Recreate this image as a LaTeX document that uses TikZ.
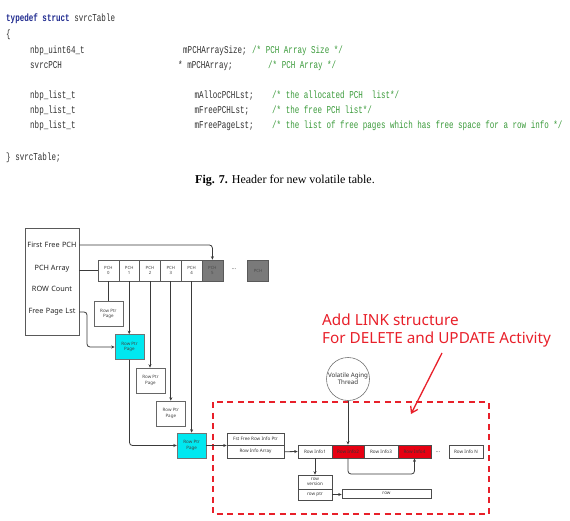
\documentclass[tikz,border=0pt]{standalone}
\usepackage{fontspec}
\setmainfont{Liberation Serif}
\newfontfamily\codefont[FakeStretch=0.72]{Liberation Mono}
\newfontfamily\dfont{Noto Sans}
\usetikzlibrary{arrows.meta}
\definecolor{kw}{HTML}{1F2A8F}
\definecolor{cmt}{HTML}{3A9A3A}
\definecolor{codegray}{HTML}{2F2F2F}
\definecolor{cyanbox}{HTML}{00E8F0}
\definecolor{redbox}{HTML}{E60012}
\definecolor{dred}{HTML}{E8202A}
\definecolor{pchgray}{HTML}{7A7A7A}
\definecolor{linegray}{HTML}{3A3A3A}
\tikzset{
  code/.style={anchor=base west, inner sep=0, text=codegray, font=\codefont\fontsize{10.5}{12}\selectfont},
  cmtx/.style={code, text=cmt},
  lbl/.style={inner sep=0, font=\dfont\fontsize{7.3}{9}\selectfont, text=black!85},
  cell/.style={draw=black!65, line width=0.5pt, inner sep=0, align=center, text=black!75,
     font=\dfont\fontsize{4.3}{5}\selectfont, minimum height=21pt, minimum width=20.8pt},
  pagebox/.style={draw=black!60, line width=0.6pt, inner sep=0, align=center, text=black!75,
     font=\dfont\fontsize{4.5}{5.2}\selectfont, minimum width=29pt, minimum height=25pt},
  infobox/.style={draw=black!70, line width=0.6pt, inner sep=0, align=center, text=black!80,
     font=\dfont\fontsize{4.6}{5.2}\selectfont},
  conn/.style={draw=linegray, line width=0.8pt, rounded corners=3pt, -{Stealth[length=3.5pt,width=3pt]}},
  plain/.style={draw=linegray, line width=0.8pt, rounded corners=3pt},
}
\begin{document}
\begin{tikzpicture}[x=1pt,y=-1pt]
\useasboundingbox (0,0) rectangle (570,521);
% ---------------- code ----------------
\node[code] (c1) at (6,21.5) {{\color{kw}\bfseries typedef struct} svrcTable};
\node[code] (c2) at (6,37.5) {\{};
\node[code] (c3a) at (30,53.5) {nbp\_uint64\_t};
\node[code] (c3b) at (183,53.5) {mPCHArraySize;};
\node[cmtx] (c3c) at (252,53.5) {/* PCH Array Size */};
\node[code] (c4a) at (30,68.5) {svrcPCH};
\node[code] (c4b) at (178,68.5) {* mPCHArray;};
\node[cmtx] (c4c) at (268,68.5) {/* PCH Array */};
\node[code] (c5a) at (30,98.5) {nbp\_list\_t};
\node[code] (c5b) at (194.5,98.5) {mAllocPCHLst;};
\node[cmtx] (c5c) at (272,98.5) {/* the allocated PCH\ \ list*/};
\node[code] (c6a) at (30,113.5) {nbp\_list\_t};
\node[code] (c6b) at (194.5,113.5) {mFreePCHLst;};
\node[cmtx] (c6c) at (272,113.5) {/* the free PCH list*/};
\node[code] (c7a) at (30,129) {nbp\_list\_t};
\node[code] (c7b) at (194.5,129) {mFreePageLst;};
\node[cmtx] (c7c) at (272,129) {/* the list of free pages which has free space for a row info */};
\node[code] (c8) at (6,160.5) {\} svrcTable;};
% caption
\node[inner sep=0, font=\fontsize{12}{14}\selectfont] (cap) at (285,181) {\textbf{Fig. 7.} Header for new volatile table.};
% ---------------- diagram ----------------
\node[draw=black!65, line width=0.6pt, minimum width=54pt, minimum height=107pt, inner sep=0] (lbox) at (52,281.5) {};
\node[lbl] (ffp) at (52,245) {First\,\,Free\,\,PCH};
\node[lbl] (pcha) at (52,269) {PCH Array};
\node[lbl] (rowc) at (52,289) {ROW\,\,Count};
\node[lbl] (fpl) at (52,312) {Free\,\,Page\,\,Lst};
% PCH array
\node[cell] (p0) at (108.4,270.5) {PCH\\0};
\node[cell] (p1) at (129.2,270.5) {PCH\\1};
\node[cell] (p2) at (150,270.5) {PCH\\2};
\node[cell] (p3) at (170.8,270.5) {PCH\\3};
\node[cell] (p4) at (191.6,270.5) {PCH\\4};
\node[cell, fill=pchgray, text=black!70] (p5) at (212.4,270.5) {PCH\\5};
\node[inner sep=0, font=\dfont\fontsize{6}{7}\selectfont, text=black!70] (pdots) at (234,269.5) {...};
\node[cell, fill=pchgray, text=black!70] (pn) at (258,270.5) {PCH};
% row ptr pages
\node[pagebox] (r0) at (108.4,314) {Row Ptr\\Page};
\node[pagebox, fill=cyanbox, draw=black!55] (r1) at (129.5,347) {Row Ptr\\Page};
\node[pagebox] (r2) at (150.5,380.5) {Row Ptr\\Page};
\node[pagebox] (r3) at (170.8,413.5) {Row Ptr\\Page};
\node[pagebox, fill=cyanbox, draw=black!55] (r4) at (191.6,445.5) {Row Ptr\\Page};
% row info header
\node[infobox, minimum width=57pt, minimum height=12.5pt] (fst) at (255.5,439.25) {Fst Free Row Info Ptr};
\node[infobox, minimum width=57pt, minimum height=12.5pt] (ria) at (255.5,451.75) {Row Info Array};
% row infos
\node[infobox, minimum width=34pt, minimum height=13pt] (ri1) at (315,451.5) {Row Info1};
\node[infobox, minimum width=32pt, minimum height=13pt, fill=redbox] (ri2) at (348,451.5) {Row Info2};
\node[infobox, minimum width=34pt, minimum height=13pt] (ri3) at (381,451.5) {Row Info3};
\node[infobox, minimum width=33pt, minimum height=13pt, fill=redbox] (ri4) at (414.5,451.5) {Row Info4};
\node[inner sep=0, font=\dfont\fontsize{6}{7}\selectfont, text=black!70] (rdots) at (438,452) {...};
\node[infobox, minimum width=34pt, minimum height=13pt] (rin) at (466,451.5) {Row Info N};
% row version
\node[infobox, minimum width=34pt, minimum height=14pt] (rv) at (315,482) {row\\version};
\node[infobox, minimum width=34pt, minimum height=11pt] (rpt) at (315,494.5) {row ptr};
\node[infobox, minimum width=89pt, minimum height=9pt] (row) at (386.5,493.5) {row};
% aging thread
\node[draw=black!55, line width=0.6pt, circle, minimum size=43pt, inner sep=0, align=center,
  font=\dfont\fontsize{6.2}{7.2}\selectfont, text=black!80] (vat) at (348,379) {Volatile Aging\\Thread};
% dashed region
\draw[dred, line width=1.7pt, dash pattern=on 6pt off 4.5pt] (213,402) rectangle (489,514);
% red annotation
\node[anchor=west, inner sep=0, align=left, text=dred, font=\dfont\fontsize{15.3}{18}\selectfont] (note) at (322,331)
  {Add LINK structure\\For DELETE and UPDATE Activity};
\coordinate (rs) at (442,353);
\coordinate (re) at (411,414);
\draw[dred, line width=1.3pt, -{Straight Barb[length=6pt,width=8pt]}] (rs) -- (re);
% ---------------- connectors ----------------
\coordinate (fplturn) at (87,312);
\coordinate (linky) at (0,474);
\draw[conn] (lbox.east |- ffp) -- (p5.north |- ffp) -- (p5.north);
\draw[plain] (lbox.east |- p0.west) -- (p0.west);
\draw[conn] (lbox.east |- fpl) -- (fplturn) -- (fplturn |- r1.west) -- (r1.west);
\draw[plain] (p0.south) -- (r0.north);
\draw[conn] (p1.south) -- (p1.south |- r1.north);
\draw[conn] (p2.south) -- (p2.south |- r2.north);
\draw[conn] (p3.south) -- (p3.south |- r3.north);
\draw[conn] (p4.south) -- (p4.south |- r4.north);
\draw[conn] (r1.south) -- (r1.south |- r4.west) -- (r4.west);
\draw[conn] (r4.east) -- (r4.east -| fst.west);
\draw[conn] (ria.east) -- (ri1.west);
\draw[conn] (vat.south) -- (ri2.north);
\draw[conn] (ri2.south) -- (ri2.south |- linky) -- (ri4.south |- linky) -- (ri4.south);
\draw[conn] (ri1.south) -- (rv.north);
\draw[conn] (rpt.east) -- (rpt.east -| row.west);
\end{tikzpicture}
\end{document}
